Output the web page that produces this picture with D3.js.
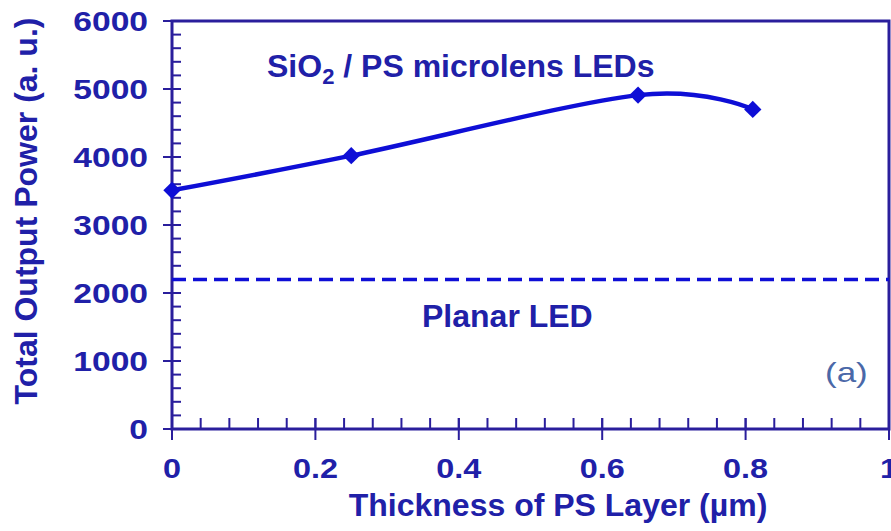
<!DOCTYPE html>
<html>
<head>
<meta charset="utf-8">
<script src="https://cdn.jsdelivr.net/npm/d3@7"></script>
<style>
  html, body { margin: 0; padding: 0; background: #ffffff; }
  svg { display: block; }
</style>
</head>
<body>
<svg id="chart" width="891" height="531"></svg>
<script>
// ---- data ----
const thickness = [0, 0.25, 0.65, 0.81];          // µm
const outputPower = [3510, 4020, 4910, 4700];      // a. u.
const planarLevel = 2200;
const xTicks = [0, 0.2, 0.4, 0.6, 0.8, 1];
const xTickLabels = ["0", "0.2", "0.4", "0.6", "0.8", "1"];
const yTicks = [0, 1000, 2000, 3000, 4000, 5000, 6000];
const yTickLabels = ["0", "1000", "2000", "3000", "4000", "5000", "6000"];
const seriesLabel = "microlens LEDs";
const planarLabel = "Planar LED";
const xTitle = "Thickness of PS Layer (µm)";
const yTitle = "Total Output Power (a. u.)";
const panelLabel = "(a)";

// ---- layout ----
const W = 891, H = 531;
const m = { left: 172, right: 2, top: 21, bottom: 102 };
const textColor = "#2020a8";
const axisColor = "#2a1e9c";
const lineColor = "#0e0ed6";
const font = "'Liberation Sans', Arial, sans-serif";

const svg = d3.select("#chart");
const x = d3.scaleLinear().domain([0, 1]).range([m.left, W - m.right]);
const y = d3.scaleLinear().domain([0, 6000]).range([H - m.bottom, m.top]);

// frame
svg.append("rect")
  .attr("x", x(0)).attr("y", y(6000))
  .attr("width", x(1) - x(0)).attr("height", y(0) - y(6000))
  .attr("fill", "none").attr("stroke", axisColor).attr("stroke-width", 3);

// minor ticks (inside)
const xMinor = d3.range(0, 1.0001, 0.04);
svg.append("g").selectAll("line").data(xMinor).join("line")
  .attr("x1", d => x(d)).attr("x2", d => x(d))
  .attr("y1", y(0)).attr("y2", y(0) - 11)
  .attr("stroke", axisColor).attr("stroke-width", 2);
const yMinor = d3.range(0, 6001, 200);
svg.append("g").selectAll("line").data(yMinor).join("line")
  .attr("x1", x(0)).attr("x2", x(0) + 9)
  .attr("y1", d => y(d)).attr("y2", d => y(d))
  .attr("stroke", axisColor).attr("stroke-width", 2);

// major ticks (crossing)
svg.append("g").selectAll("line").data(xTicks).join("line")
  .attr("x1", d => x(d)).attr("x2", d => x(d))
  .attr("y1", y(0) - 11).attr("y2", y(0) + 11)
  .attr("stroke", axisColor).attr("stroke-width", 2);
svg.append("g").selectAll("line").data(yTicks).join("line")
  .attr("x1", x(0) - 9).attr("x2", x(0) + 9)
  .attr("y1", d => y(d)).attr("y2", d => y(d))
  .attr("stroke", axisColor).attr("stroke-width", 2);

// tick labels
svg.append("g").selectAll("text").data(xTicks).join("text")
  .attr("transform", d => `translate(${x(d)},${y(0) + 49}) scale(1.2,1)`)
  .attr("text-anchor", "middle")
  .attr("font-family", font).attr("font-weight", "bold").attr("font-size", 27)
  .attr("fill", textColor)
  .text((d, i) => xTickLabels[i]);
svg.append("g").selectAll("text").data(yTicks).join("text")
  .attr("transform", d => `translate(${x(0) - 24},${y(d) + 10}) scale(1.2,1)`)
  .attr("text-anchor", "end")
  .attr("font-family", font).attr("font-weight", "bold").attr("font-size", 28)
  .attr("fill", textColor)
  .text((d, i) => yTickLabels[i]);

// axis titles
svg.append("text")
  .attr("x", 558).attr("y", 516)
  .attr("text-anchor", "middle")
  .attr("font-family", font).attr("font-weight", "bold").attr("font-size", 32)
  .attr("fill", textColor)
  .text(xTitle);
svg.append("text")
  .attr("transform", `translate(37,211) rotate(-90)`)
  .attr("text-anchor", "middle")
  .attr("font-family", font).attr("font-weight", "bold").attr("font-size", 32)
  .attr("fill", textColor)
  .text(yTitle);

// planar LED dashed line
svg.append("line")
  .attr("x1", x(0)).attr("x2", x(1))
  .attr("y1", y(planarLevel)).attr("y2", y(planarLevel))
  .attr("stroke", lineColor).attr("stroke-width", 3.5)
  .attr("stroke-dasharray", "14,7");

// series line
const pts = thickness.map((t, i) => [t, outputPower[i]]);
const line = d3.line().x(d => x(d[0])).y(d => y(d[1])).curve(d3.curveCatmullRom.alpha(0));
svg.append("path").datum(pts)
  .attr("d", line)
  .attr("fill", "none").attr("stroke", lineColor).attr("stroke-width", 4.5);

// markers
const sym = d3.symbol().type(d3.symbolSquare).size(150);
svg.append("g").selectAll("path").data(pts).join("path")
  .attr("transform", d => `translate(${x(d[0])},${y(d[1])}) rotate(45)`)
  .attr("d", sym)
  .attr("fill", lineColor);

// annotations
const ann = svg.append("text")
  .attr("x", 267).attr("y", 77)
  .attr("font-family", font).attr("font-weight", "bold").attr("font-size", 32)
  .attr("fill", textColor);
ann.append("tspan").text("SiO");
ann.append("tspan").attr("font-size", 22).attr("dy", 7).text("2");
ann.append("tspan").attr("dy", -7).text(" / PS " + seriesLabel);

svg.append("text")
  .attr("x", 422).attr("y", 327)
  .attr("font-family", font).attr("font-weight", "bold").attr("font-size", 32)
  .attr("fill", textColor)
  .text(planarLabel);

svg.append("text")
  .attr("transform", `translate(825,382) scale(1.25,1)`)
  .attr("font-family", font).attr("font-size", 28)
  .attr("fill", "#4a68a8")
  .text(panelLabel);
</script>
</body>
</html>
